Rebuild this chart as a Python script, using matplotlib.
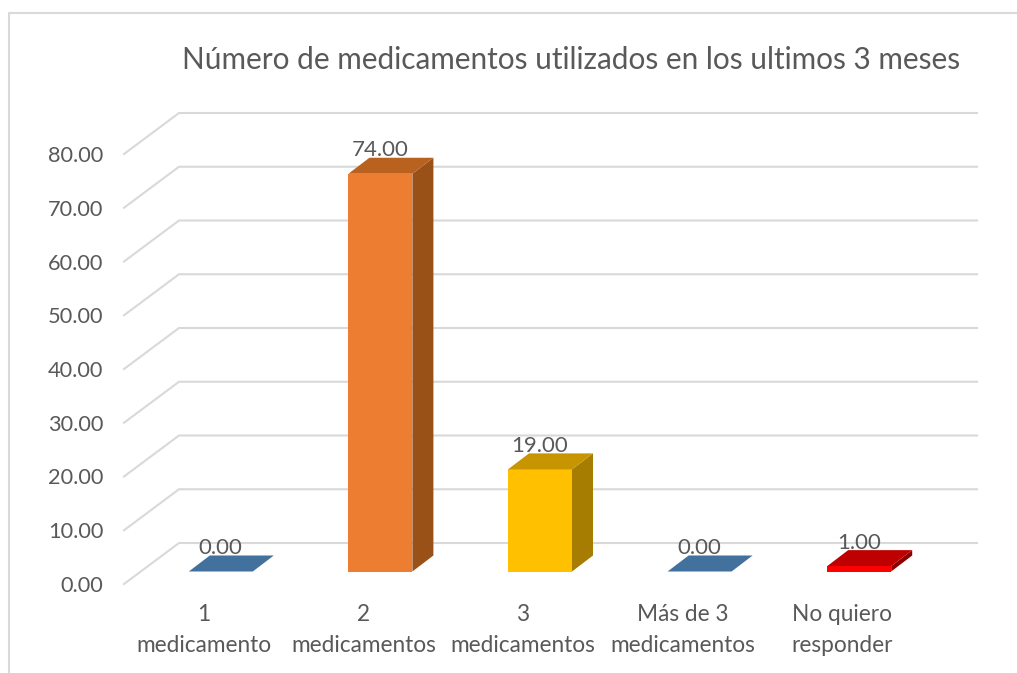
import matplotlib
matplotlib.use('Agg')
import matplotlib.pyplot as plt
from matplotlib.lines import Line2D

categories = ['1\nmedicamento', '2\nmedicamentos', '3\nmedicamentos', 'Más de 3\nmedicamentos', 'No quiero\nresponder']
values = [0, 74, 19, 0, 1]
yticks = [0, 10, 20, 30, 40, 50, 60, 70, 80]
front_colors = ['#41719C', '#ED7D31', '#FFC000', '#41719C', '#FF0000']
top_colors = ['#41719C', '#B9611F', '#C69500', '#41719C', '#BF0000']
side_colors = ['#41719C', '#9A5118', '#A67D00', '#41719C', '#8F0000']
title = 'Número de medicamentos utilizados en los ultimos 3 meses'

plt.rcParams['font.family'] = ['Lato', 'DejaVu Sans']
text_color = '#595959'
grid_color = '#D9D9D9'

W, H = 1017, 673
fig = plt.figure(figsize=(W / 100, H / 100), dpi=100)
ax = fig.add_axes([124 / W, (H - 584) / H, 798 / W, 430 / H])
ax.set_xlim(-0.5, 4.5)
ax.set_ylim(0, 80)
for s in ax.spines.values():
    s.set_visible(False)

# depth of the floor, in data units
depth_x = 55 / 159.6
depth_y = 41 / 5.375
# bars sit part way into the floor
bar_x = 17 / 159.6
bar_y = 12.5 / 5.375
bar_dx = 21 / 159.6
bar_dy = 16 / 5.375
bar_width = 64 / 159.6

# wall and floor lines
for v in yticks:
    ax.plot([-0.5, -0.5 + depth_x, 4.5 + depth_x], [v, v + depth_y, v + depth_y],
            color=grid_color, lw=1.5, clip_on=False, zorder=1, solid_joinstyle='miter')

# bars
for i, v in enumerate(values):
    left = i + bar_x - bar_width / 2
    right = left + bar_width
    base = bar_y
    top = bar_y + v
    ax.bar(i + bar_x, v, width=bar_width, bottom=bar_y, color=front_colors[i], zorder=3, clip_on=False)
    ax.fill([right, right + bar_dx, right + bar_dx, right],
            [base, base + bar_dy, top + bar_dy, top],
            color=side_colors[i], lw=0, zorder=3, clip_on=False)
    ax.fill([left, right, right + bar_dx, left + bar_dx],
            [top, top, top + bar_dy, top + bar_dy],
            color=top_colors[i], lw=0, zorder=3, clip_on=False)
    ax.annotate('%.2f' % v, (i + bar_x, top), xytext=(0, 17), textcoords='offset points',
                ha='center', va='center', fontsize=16, color=text_color, zorder=4, annotation_clip=False)

ax.set_yticks(yticks)
ax.set_yticklabels(['%.2f' % v for v in yticks])
ax.set_xticks(range(len(categories)))
ax.set_xticklabels(categories, linespacing=1.6)
ax.tick_params(axis='y', length=0, pad=15, labelsize=15.7, labelcolor=text_color)
ax.tick_params(axis='x', length=0, pad=14.5, labelsize=16.3, labelcolor=text_color)

ax.set_title(title, x=(571 - 124) / 798, y=(584 - 68) / 430, va='center', fontsize=21.4, color=text_color)

# chart area border
fig.add_artist(Line2D([9 / W, 9 / W, 1 + 2 / W], [0, (H - 13) / H, (H - 13) / H],
                      color=grid_color, lw=1.5, transform=fig.transFigure))

fig.savefig('out.png', dpi=100)
